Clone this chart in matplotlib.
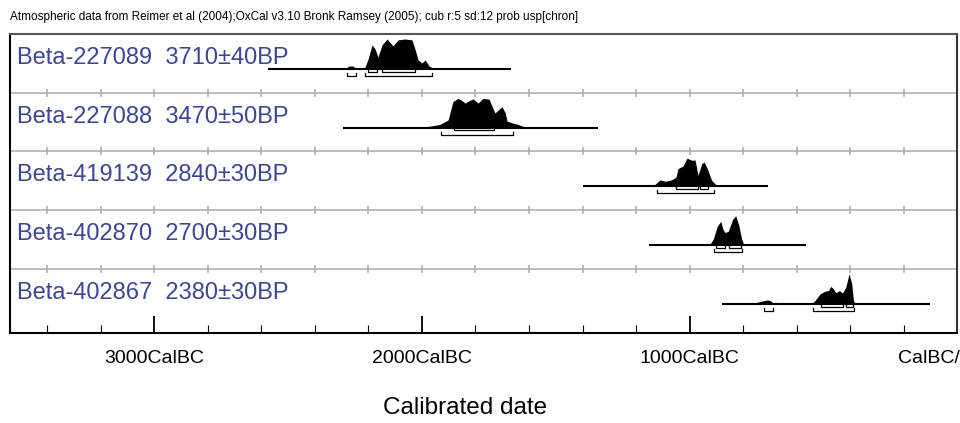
import numpy as np
import matplotlib.pyplot as plt

samples = ["Beta-227089", "Beta-227088", "Beta-419139", "Beta-402870", "Beta-402867"]
bp_dates = ["3710±40BP", "3470±50BP", "2840±30BP", "2700±30BP", "2380±30BP"]

# extent of the baseline drawn for each date (cal BC)
span_bc = [(2574, 1667), (2295, 1343), (1397, 706), (1151, 567), (880, 103)]

# calibrated probability distributions (cal BC, relative probability)
dist_bc = [
    [2287, 2272, 2257, 2246, 2223, 2212, 2201, 2186, 2175, 2164, 2149, 2130, 2108,
     2089, 2063, 2037, 2026, 2014, 2000, 1988, 1973, 1951],
    [2026, 1970, 1932, 1902, 1884, 1865, 1850, 1839, 1824, 1809, 1790, 1772, 1749,
     1734, 1727, 1701, 1689, 1682, 1663, 1645, 1607],
    [1148, 1129, 1111, 1092, 1067, 1051, 1044, 1025, 1010, 992, 980, 969, 955, 946,
     935, 918, 899, 887],
    [939, 924, 912, 897, 884, 876, 868, 856, 839, 828, 816, 806, 797],
    [767, 749, 725, 708, 696, 689, 675, 666, 656, 644, 544, 532, 513, 495, 482, 473,
     464, 454, 441, 429, 417, 405, 395, 389, 383],
]
dist_p = [
    [0, 0.1, 0.1, 0, 0, 0.07, 0.33, 0.8, 0.67, 0.4, 0.8, 1.0, 0.77, 0.97, 1.0, 0.97,
     0.67, 0.3, 0.2, 0.3, 0.1, 0],
    [0, 0.05, 0.11, 0.26, 0.87, 0.98, 0.9, 0.82, 0.9, 0.96, 0.82, 0.98, 0.95, 0.63,
     0.49, 0.7, 0.5, 0.22, 0.16, 0.12, 0],
    [0, 0.07, 0.22, 0.17, 0.22, 0.31, 0.59, 0.68, 0.94, 0.87, 0.88, 0.37, 0.76, 0.81,
     0.61, 0.2, 0.03, 0],
    [0, 0.03, 0.2, 0.63, 0.79, 0.53, 0.42, 0.46, 0.87, 0.98, 0.64, 0.2, 0],
    [0, 0.05, 0.1, 0.13, 0.09, 0.02, 0.05, 0.01, 0.05, 0.01, 0.01, 0.11, 0.33, 0.42,
     0.44, 0.58, 0.5, 0.37, 0.44, 0.36, 0.56, 1.0, 0.67, 0.13, 0],
]

# 68.2% and 95.4% ranges (cal BC)
range68 = [
    [(2201, 2167), (2149, 2027)],
    [(1880, 1731)],
    [(1051, 968), (961, 930)],
    [(902, 868), (852, 809)],
    [(509, 429), (417, 389)],
]
range95 = [
    [(2279, 2246), (2212, 1964)],
    [(1930, 1661)],
    [(1121, 908)],
    [(909, 806)],
    [(722, 689), (538, 386)],
]

tick_years = [-3000, -2000, -1000, 0]
tick_labels = ["3000CalBC", "2000CalBC", "1000CalBC", "CalBC/CalAD"]

header = ("Atmospheric data from Reimer et al (2004);OxCal v3.10 Bronk Ramsey (2005); "
          "cub r:5 sd:12 prob usp[chron]")

plt.rcParams["font.family"] = ["Liberation Sans", "DejaVu Sans"]

W, H = 960, 423
fig = plt.figure(figsize=(W / 100, H / 100), dpi=100)
ax = fig.add_axes([10 / W, 1 - 333 / H, 947.5 / W, 299 / H])

row_h = 58.7      # pixels per row
base_off = 35.0   # baseline below row top
peak_h = 30.0     # height of a full-probability peak
ax.set_xlim(-3538, 0)
ax.set_ylim(299, 0)

# row separators with small ticks
minor = np.arange(-3400, 0, 200)
for i in range(1, len(samples)):
    y = i * row_h
    ax.axhline(y, color="#aaaaaa", lw=1.1, zorder=1)
    ax.vlines(minor, y - 4, y + 4, color="#aaaaaa", lw=1.1, zorder=1)

for i, name in enumerate(samples):
    top = i * row_h
    yb = top + base_off
    ax.text(0.0074, top + 24, f"{name}  {bp_dates[i]}", transform=ax.get_yaxis_transform(),
            color="#3c4696", fontsize=17, va="center", ha="left", zorder=2)
    a, b = span_bc[i]
    ax.plot([-a, -b], [yb, yb], color="black", lw=1.5, solid_capstyle="butt", zorder=3)
    xs = -np.array(dist_bc[i])
    ys = yb - np.array(dist_p[i]) * peak_h
    ax.fill_between(xs, ys, yb, color="black", lw=0, zorder=3)
    for lev, ranges in ((yb + 2.8, range68[i]), (yb + 7.0, range95[i])):
        for a, b in ranges:
            ax.plot([-a, -a, -b, -b], [lev - 3, lev, lev, lev - 3], color="black",
                    lw=0.9, zorder=3)

for side, col in (("left", "black"), ("bottom", "black"), ("top", "#555555"), ("right", "#333333")):
    ax.spines[side].set_color(col)
    ax.spines[side].set_linewidth(1.5)

ax.set_yticks([])
ax.set_xticks(tick_years)
ax.set_xticklabels(tick_labels, fontsize=14)
ax.set_xticks(minor, minor=True)
ax.tick_params(axis="x", which="major", direction="in", length=12, width=1.3, pad=12)
ax.tick_params(axis="x", which="minor", direction="in", length=5.5, width=0.8)

fig.text(465 / W, 1 - 408 / H, "Calibrated date", fontsize=17.5, ha="center", va="center")
fig.text(10 / W, 1 - 17 / H, header, fontsize=8.5, ha="left", va="center")

fig.savefig("out.png", dpi=100)
